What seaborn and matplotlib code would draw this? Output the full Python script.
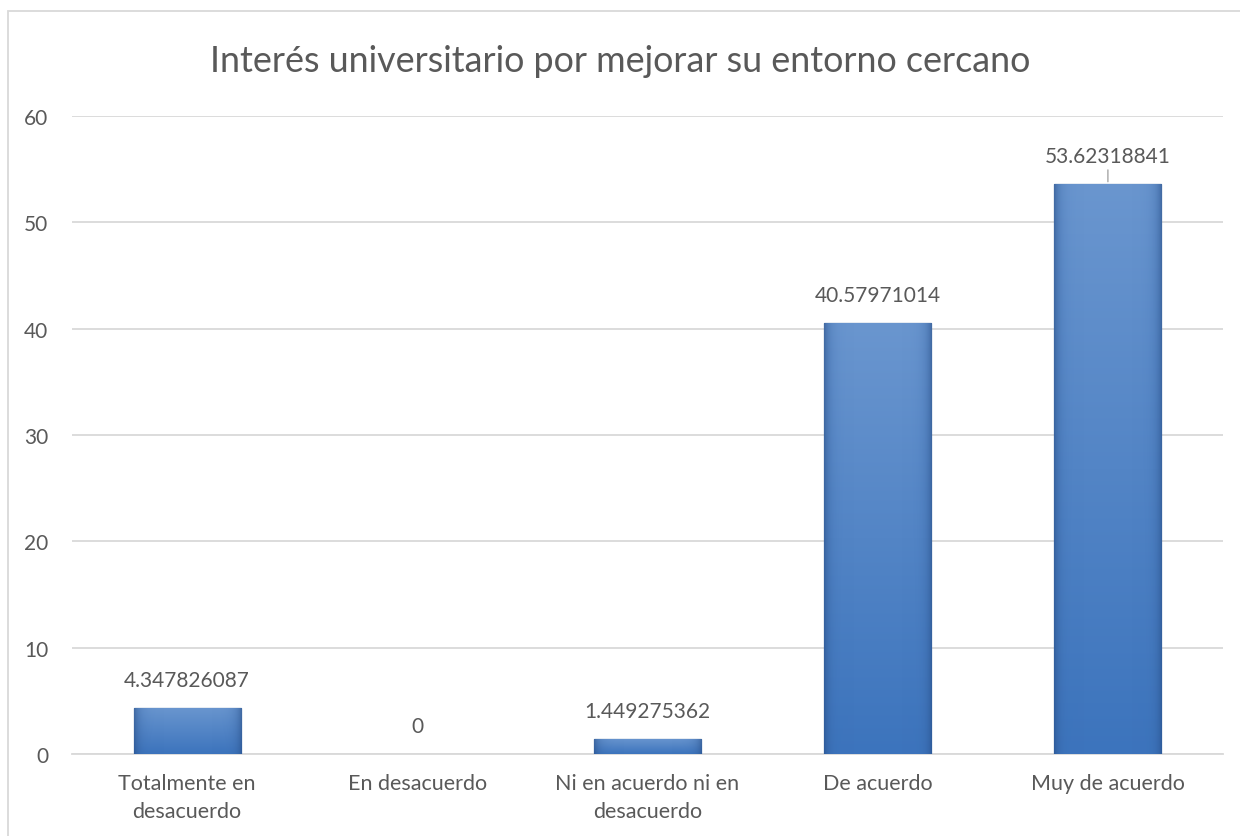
import numpy as np
import pandas as pd
import matplotlib
matplotlib.use("Agg")
import matplotlib.pyplot as plt
from matplotlib.patches import Rectangle
from matplotlib.colors import LinearSegmentedColormap
import seaborn as sns

categories = ["Totalmente en\ndesacuerdo", "En desacuerdo", "Ni en acuerdo ni en\ndesacuerdo",
              "De acuerdo", "Muy de acuerdo"]
values = [4.347826087, 0, 1.449275362, 40.57971014, 53.62318841]
value_labels = ["4.347826087", "0", "1.449275362", "40.57971014", "53.62318841"]
y_ticks = [0, 10, 20, 30, 40, 50, 60]
title = "Interés universitario por mejorar su entorno cercano"

sns.set_theme(style="white")
plt.rcParams['font.family'] = ['Lato', 'DejaVu Sans']
TXT = "#595959"

fig = plt.figure(figsize=(12.4, 8.37), dpi=100)
ax = fig.add_axes([72/1240, 1-755/837, (1223-72)/1240, (755-117)/837])

df = pd.DataFrame({"cat": categories, "val": values})
sns.barplot(data=df, x="cat", y="val", ax=ax, color="#4a7ebf", width=0.465,
            edgecolor="#35609a", linewidth=0.9, saturation=1, zorder=3)

# gradient shading clipped to each bar
grad = np.linspace(0, 1, 256).reshape(-1, 1)
cmap = LinearSegmentedColormap.from_list("g", ["#3c74bd", "#6a96cf"])
hgrad = np.abs(np.linspace(-1, 1, 256)).reshape(1, -1)
hcmap = LinearSegmentedColormap.from_list("h", [(0.25, 0.45, 0.72, 0.0), (0.15, 0.30, 0.52, 0.6)])
for p in ax.patches:
    x0, y0 = p.get_x(), p.get_y()
    w, h = p.get_width(), p.get_height()
    if h <= 0:
        p.set_visible(False)
        continue
    im = ax.imshow(grad, cmap=cmap, aspect="auto", extent=(x0, x0 + w, y0, y0 + h),
                   origin="lower", zorder=3.1, interpolation="bilinear")
    im.set_clip_path(p)
    im2 = ax.imshow(hgrad ** 6, cmap=hcmap, aspect="auto", extent=(x0, x0 + w, y0, y0 + h),
                    origin="lower", zorder=3.2, interpolation="bilinear")
    im2.set_clip_path(p)

ax.set_xlim(-0.5, 4.5)
ax.set_ylim(0, 60)
ax.set_yticks(y_ticks)
ax.set_yticklabels([str(t) for t in y_ticks])
ax.grid(axis="y", color="#d9d9d9", linewidth=1.3, zorder=0)
ax.set_axisbelow(True)
for s in ["top", "right", "left"]:
    ax.spines[s].set_visible(False)
ax.spines["bottom"].set_color("#d9d9d9")
ax.spines["bottom"].set_linewidth(1.3)
ax.tick_params(axis="both", length=0, labelcolor=TXT)
ax.tick_params(axis="y", pad=17, labelsize=15)
ax.tick_params(axis="x", pad=14, labelsize=15.5)
ax.set_xlabel("")
ax.set_ylabel("")
for lbl in ax.get_xticklabels():
    lbl.set_linespacing(1.45)

for i, (v, s) in enumerate(zip(values, value_labels)):
    ax.annotate(s, xy=(i, v), xytext=(0, 20), textcoords="offset points",
                ha="center", va="center", fontsize=15, color=TXT)
    if i == len(values) - 1:
        ax.annotate("", xy=(i, v), xytext=(0, 10), textcoords="offset points",
                    arrowprops=dict(arrowstyle="-", color="#a6a6a6", lw=1,
                                    shrinkA=0, shrinkB=1.5))

fig.text(0.5, 1 - 62/837, title, fontsize=25.8, color=TXT, ha="center", va="center")

fig.patches.append(Rectangle((8/1240, -0.1), 1.2, 1-12/837+0.1, transform=fig.transFigure,
                             fill=False, edgecolor="#d9d9d9", linewidth=1.3))

fig.savefig("out.png", dpi=100)
